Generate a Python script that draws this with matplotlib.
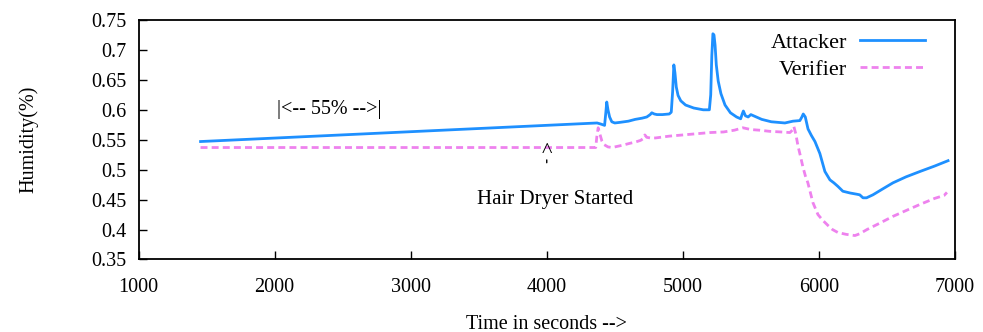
import matplotlib
matplotlib.use("Agg")
import matplotlib.pyplot as plt

plt.rcParams['font.family'] = ['Liberation Serif', 'DejaVu Serif']

# Attacker series (time s, humidity)
att_t = [1456, 4370, 4400, 4425, 4434, 4441, 4450, 4462, 4478, 4500, 4537, 4600, 4650, 4700, 4735,
         4760, 4772, 4790, 4810, 4850, 4900, 4915, 4925, 4934, 4942, 4952, 4965, 4985, 5020, 5080,
         5150, 5195, 5205, 5213, 5221, 5229, 5237, 5246, 5260, 5280, 5310, 5350, 5395, 5425, 5435,
         5445, 5460, 5480, 5500, 5530, 5580, 5650, 5750, 5809, 5860, 5875, 5885, 5900, 5920, 5945,
         5971, 6007, 6044, 6081, 6110, 6140, 6176, 6230, 6279, 6300, 6324, 6350, 6397, 6470, 6544,
         6640, 6743, 6850, 6949]
att_h = [0.547, 0.578, 0.576, 0.574, 0.595, 0.613, 0.600, 0.588, 0.580, 0.578, 0.579, 0.581, 0.584, 0.586, 0.588,
         0.592, 0.595, 0.593, 0.592, 0.592, 0.593, 0.596, 0.630, 0.675, 0.662, 0.638, 0.624, 0.615, 0.608, 0.603,
         0.600, 0.600, 0.625, 0.690, 0.727, 0.725, 0.708, 0.675, 0.648, 0.627, 0.608, 0.595, 0.588, 0.585, 0.592,
         0.598, 0.590, 0.588, 0.592, 0.589, 0.584, 0.580, 0.578, 0.581, 0.582, 0.588, 0.593, 0.588, 0.568, 0.557,
         0.547, 0.527, 0.497, 0.483, 0.478, 0.472, 0.464, 0.461, 0.459, 0.458, 0.453, 0.453, 0.458, 0.468, 0.478,
         0.488, 0.497, 0.506, 0.515]

# Verifier series
ver_t = [1456, 4360, 4368, 4378, 4390, 4405, 4420, 4450, 4480, 4520, 4560, 4610, 4650, 4690, 4710,
         4721, 4735, 4760, 4800, 4900, 5000, 5100, 5200, 5300, 5380, 5441, 5500, 5560, 5640, 5720,
         5787, 5805, 5816, 5830, 5846, 5865, 5882, 5900, 5919, 5956, 5993, 6030, 6066, 6100, 6140,
         6200, 6265, 6300, 6353, 6450, 6544, 6643, 6743, 6850, 6920, 6941]
ver_h = [0.537, 0.537, 0.555, 0.570, 0.560, 0.548, 0.542, 0.538, 0.537, 0.539, 0.541, 0.544, 0.546, 0.549, 0.552,
         0.558, 0.554, 0.553, 0.553, 0.556, 0.558, 0.560, 0.562, 0.563, 0.566, 0.570, 0.567, 0.566, 0.564, 0.563,
         0.562, 0.566, 0.572, 0.560, 0.540, 0.522, 0.505, 0.490, 0.478, 0.445, 0.425, 0.415, 0.407, 0.400, 0.395,
         0.392, 0.390, 0.393, 0.400, 0.411, 0.422, 0.432, 0.442, 0.452, 0.457, 0.462]

xticks = [1000, 2000, 3000, 4000, 5000, 6000, 7000]
yticks = [0.35, 0.4, 0.45, 0.5, 0.55, 0.6, 0.65, 0.7, 0.75]
ytick_labels = ['0.35', '0.4', '0.45', '0.5', '0.55', '0.6', '0.65', '0.7', '0.75']

fig = plt.figure(figsize=(9.83, 3.32), dpi=100)
ax = fig.add_axes([0.1409, 0.2184, 0.9715 - 0.1409, 0.9398 - 0.2184])

ax.plot(att_t, att_h, color='#1E90FF', lw=2.0, label='Attacker')
ax.plot(ver_t, ver_h, color='#EE82EE', lw=2.0, ls=(0, (2.5, 1.5)), label='Verifier')

ax.set_xlim(1000, 7000)
ax.set_ylim(0.35, 0.75)
ax.set_xticks(xticks)
ax.set_xticklabels([str(v) for v in xticks])
ax.set_yticks(yticks)
ax.set_yticklabels(ytick_labels)
ax.tick_params(direction='in', length=6, width=1.0, labelsize=14.5, top=False, right=False)
ax.tick_params(axis='x', pad=13)
ax.tick_params(axis='y', pad=9)
for s in ax.spines.values():
    s.set_linewidth(1.3)

ax.set_xlabel('Time in seconds -->', fontsize=14.5, labelpad=13)
ax.set_ylabel('Humidity(%)', fontsize=14.5, labelpad=38)

ax.text(2400, 0.600, '|<-- 55% -->|', fontsize=14.5, ha='center', va='center')
ax.text(4060, 0.450, 'Hair Dryer Started', fontsize=15, ha='center', va='center')
ax.text(4000, 0.529, '^', fontsize=16, ha='center', va='center')
ax.annotate('', xy=(4000, 0.523), xytext=(4000, 0.507),
            arrowprops=dict(arrowstyle='-', ls=(0, (2, 2)), color='black', lw=1.0))

leg = ax.legend(loc='upper right', frameon=False, fontsize=16, markerfirst=False,
                handlelength=2.9, handletextpad=0.6, labelspacing=0.3,
                borderaxespad=0.0, bbox_to_anchor=(0.974, 0.985))

fig.savefig('out.png', dpi=100)
